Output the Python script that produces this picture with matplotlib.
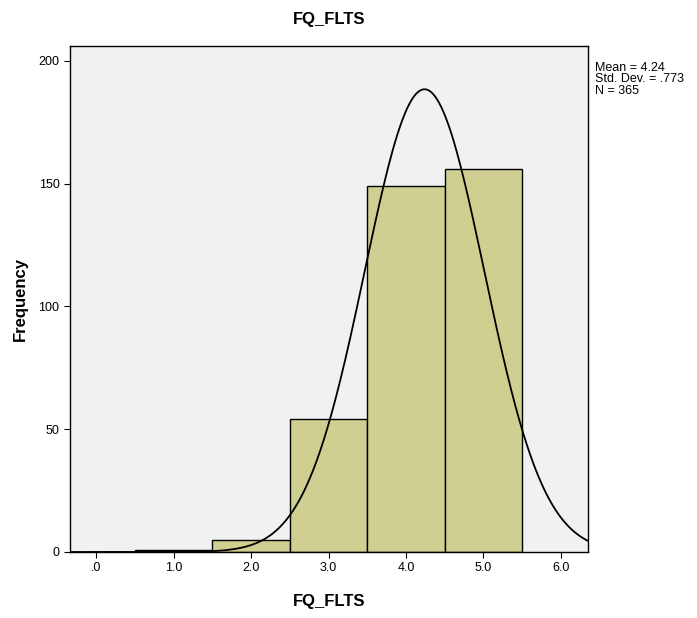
import numpy as np
import matplotlib
matplotlib.use("Agg")
import matplotlib.pyplot as plt

plt.rcParams['font.family'] = ['Liberation Sans', 'DejaVu Sans']

bin_edges = [0.5, 1.5, 2.5, 3.5, 4.5, 5.5]
counts = [1, 5, 54, 149, 156]
mean = 4.24
std = 0.773
n = 365
xticks = [0, 1, 2, 3, 4, 5, 6]
xticklabels = ['.0', '1.0', '2.0', '3.0', '4.0', '5.0', '6.0']
yticks = [0, 50, 100, 150, 200]

fig = plt.figure(figsize=(6.97, 6.18), dpi=100)
ax = fig.add_axes([0.1004, 0.1068, 0.743, 0.8188])
ax.set_facecolor('#f1f1f1')

lefts = bin_edges[:-1]
widths = np.diff(bin_edges)
ax.bar(lefts, counts, width=widths, align='edge', color='#d0cf92',
       edgecolor='black', linewidth=1.0, zorder=2)

xs = np.linspace(-0.34, 6.35, 400)
binw = widths[0]
ys = n * binw / (std * np.sqrt(2 * np.pi)) * np.exp(-0.5 * ((xs - mean) / std) ** 2)
ax.plot(xs, ys, color='black', linewidth=1.3, zorder=3)

ax.set_xlim(-0.34, 6.35)
ax.set_ylim(0, 206)
ax.set_xticks(xticks)
ax.set_xticklabels(xticklabels)
ax.set_yticks(yticks)
ax.tick_params(direction='out', length=4, labelsize=9, colors='black')
for s in ax.spines.values():
    s.set_color('black')
    s.set_linewidth(1.0)

ax.set_title('FQ_FLTS', fontsize=12, fontweight='bold', pad=16)
ax.set_xlabel('FQ_FLTS', fontsize=12, fontweight='bold', labelpad=14)
ax.set_ylabel('Frequency', fontsize=12, fontweight='bold', labelpad=8)

fig.text(0.853, 0.90, 'Mean = 4.24\nStd. Dev. = .773\nN = 365', fontsize=9,
         va='top', ha='left', linespacing=0.95)

fig.savefig('out.png', dpi=100, facecolor='white')
